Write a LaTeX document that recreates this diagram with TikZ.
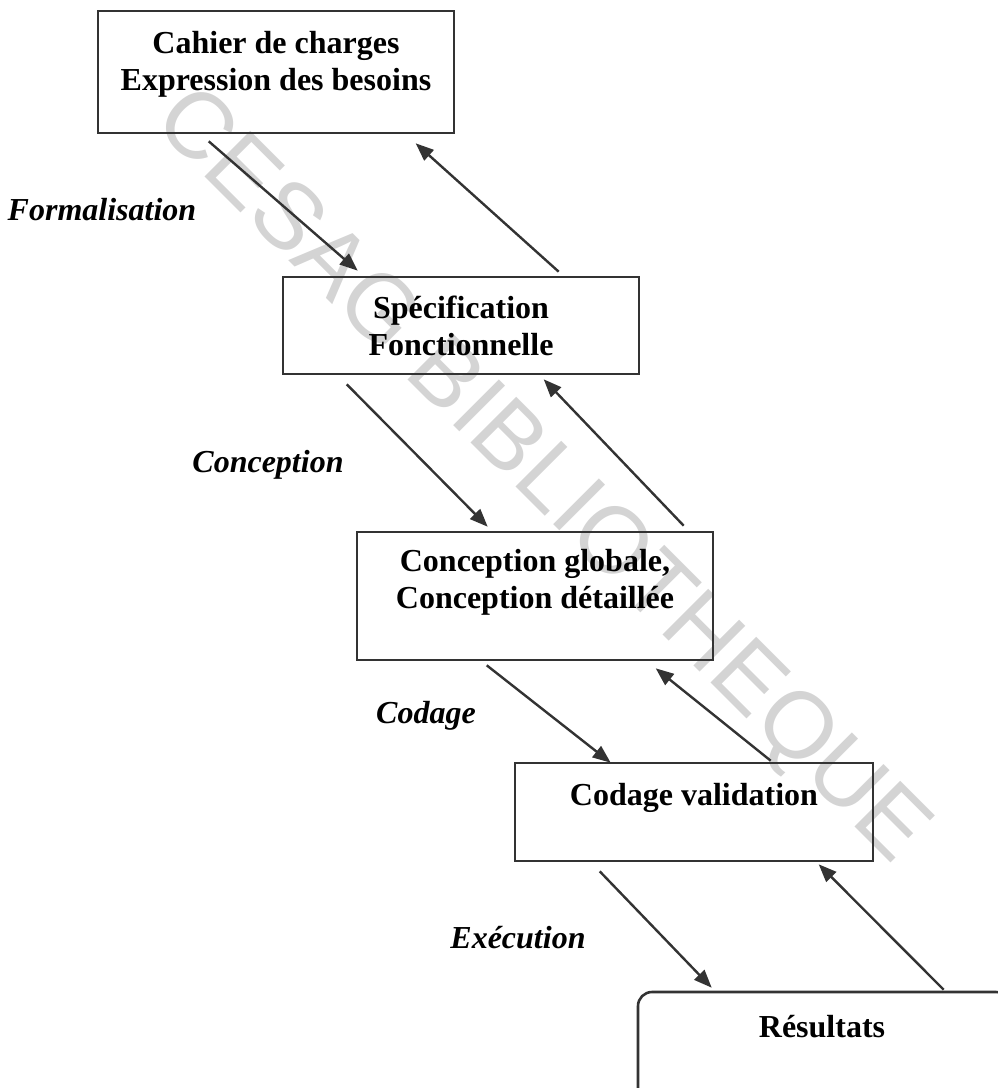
\documentclass[tikz,border=0pt]{standalone}
\usepackage{fontspec}
\setmainfont{Liberation Serif}
\newfontfamily\wmfont{Liberation Sans}
\usetikzlibrary{arrows.meta,calc}
\begin{document}
\begin{tikzpicture}[x=1pt,y=-1pt,
  stagebox/.style={draw=black!80, line width=2.6pt, inner sep=0pt},
  stagetext/.style={anchor=base, inner sep=0pt, font=\fontsize{32}{37}\selectfont\bfseries},
  phase/.style={anchor=base, inner sep=0pt, font=\fontsize{32}{37}\selectfont\bfseries\itshape},
  flow/.style={draw=black!80, line width=2.4pt, -{Triangle[length=18pt,width=14pt]}},
  wmark/.style={rotate=-45, inner sep=0pt, text=black!17, font=\wmfont\fontsize{94}{94}\selectfont}
]
\useasboundingbox (0,0) rectangle (998,1088);

% library stamp behind everything
\node[wmark] (wm) at (540,478) {CESAG BIBLIOTHEQUE};

% stage boxes
\node[stagebox, minimum width=356pt, minimum height=122pt] (b1) at (276,72) {};
\node[stagebox, minimum width=356pt, minimum height=97pt]  (b2) at (461,325.5) {};
\node[stagebox, minimum width=356pt, minimum height=128pt] (b3) at (535,596) {};
\node[stagebox, minimum width=358pt, minimum height=98pt]  (b4) at (694,812) {};
\begin{scope}
  \clip (0,0) rectangle (998,1088);
  \node[stagebox, rounded corners=14pt, minimum width=372pt, minimum height=110pt] (b5) at (824,1047) {};
\end{scope}

% box texts
\node[stagetext] (t1a) at (276,53) {Cahier de charges};
\node[stagetext] (t1b) at (276,90) {Expression des besoins};
\node[stagetext] (t2a) at (461,318) {Spécification};
\node[stagetext] (t2b) at (461,355) {Fonctionnelle};
\node[stagetext] (t3a) at (535,571) {Conception globale,};
\node[stagetext] (t3b) at (535,608) {Conception détaillée};
\node[stagetext] (t4)  at (694,805) {Codage validation};
\node[stagetext] (t5)  at (822,1037) {Résultats};

% phase labels
\node[phase] (p1) at (102,220) {Formalisation};
\node[phase] (p2) at (268,472) {Conception};
\node[phase] (p3) at (426,723) {Codage};
\node[phase] (p4) at (518,948) {Exécution};

% forward arrows
\draw[flow] ($(b1.south west)+(112,7)$) -- ($(b2.north west)+(76,-5)$);
\draw[flow] ($(b2.south west)+(65,9)$)  -- ($(b3.north west)+(132,-4)$);
\draw[flow] ($(b3.south west)+(131,4)$) -- ($(b4.north west)+(97,1)$);
\draw[flow] ($(b4.south west)+(86,9)$)  -- ($(b5.north west)+(75,-3)$);

% feedback arrows
\draw[flow] ($(b2.north west)+(277,-4)$) -- ($(b1.south west)+(319,9)$);
\draw[flow] ($(b3.north west)+(328,-5)$) -- ($(b2.south west)+(262,4)$);
\draw[flow] ($(b4.north west)+(257,-1)$) -- ($(b3.south west)+(300,7)$);
\draw[flow] ($(b5.north west)+(307,-1)$) -- ($(b4.south west)+(305,2)$);
\end{tikzpicture}
\end{document}
